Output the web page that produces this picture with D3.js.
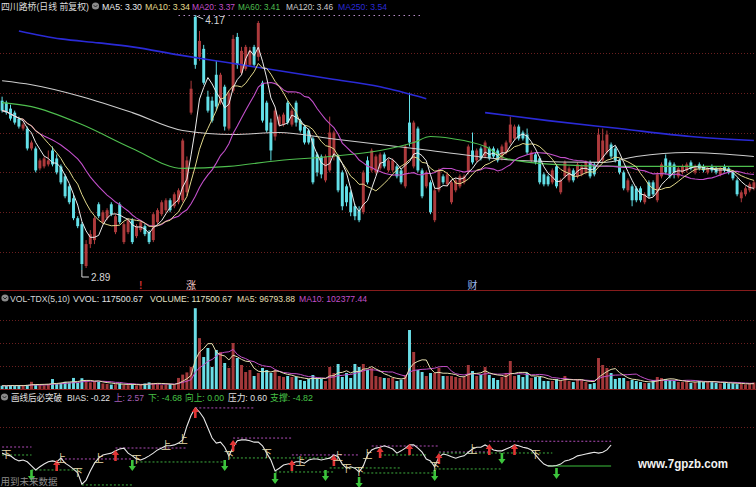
<!DOCTYPE html>
<html>
<head>
<meta charset="utf-8">
<script src="https://cdn.jsdelivr.net/npm/d3@7/dist/d3.min.js"></script>
<style>
  html, body { margin: 0; padding: 0; background: #000; }
  svg { display: block; }
  text { font-family: "Liberation Sans", "Noto Sans CJK SC", sans-serif; }
</style>
</head>
<body>
<svg id="chart" width="756" height="487"></svg>
<script>
// Daily bars, oldest first: [open, high, low, close]
const candles = [
  [3.74,3.76,3.68,3.69],[3.73,3.74,3.67,3.68],[3.70,3.72,3.64,3.65],[3.68,3.69,3.62,3.63],[3.65,3.66,3.60,3.61],
  [3.60,3.63,3.59,3.62],[3.60,3.61,3.49,3.50],[3.50,3.54,3.49,3.53],[3.50,3.51,3.38,3.39],[3.40,3.45,3.39,3.44],
  [3.41,3.46,3.40,3.45],[3.42,3.49,3.41,3.44],[3.49,3.51,3.41,3.42],[3.45,3.47,3.37,3.38],[3.41,3.42,3.32,3.33],
  [3.36,3.37,3.25,3.26],[3.31,3.32,3.22,3.23],[3.25,3.27,3.14,3.15],[3.15,3.16,3.10,3.11],[3.12,3.13,2.89,2.92],
  [2.91,3.04,2.90,3.02],[3.02,3.09,3.00,3.07],[3.04,3.16,3.02,3.15],[3.22,3.23,3.15,3.16],[3.13,3.19,3.12,3.18],
  [3.15,3.20,3.14,3.19],[3.22,3.23,3.16,3.17],[3.08,3.17,3.07,3.16],[3.22,3.23,3.12,3.13],[3.03,3.13,3.02,3.12],
  [3.08,3.15,3.07,3.14],[3.14,3.15,3.02,3.03],[3.06,3.12,3.05,3.11],[3.09,3.14,3.08,3.13],[3.11,3.12,3.06,3.07],
  [3.08,3.09,3.02,3.03],[3.04,3.18,3.03,3.17],[3.13,3.20,3.12,3.19],[3.17,3.24,3.16,3.23],[3.19,3.25,3.18,3.24],
  [3.24,3.25,3.18,3.19],[3.21,3.28,3.20,3.27],[3.23,3.30,3.22,3.29],[3.24,3.55,3.23,3.54],[3.28,3.46,3.26,3.44],
  [3.68,3.84,3.67,3.80],[4.16,4.17,3.90,3.92],[3.96,4.09,3.94,4.04],[4.00,4.02,3.82,3.83],[3.76,3.79,3.68,3.69],
  [3.74,3.76,3.63,3.64],[3.87,3.94,3.69,3.71],[3.73,3.88,3.72,3.87],[3.81,3.82,3.59,3.61],[3.60,3.79,3.59,3.78],
  [3.79,4.07,3.78,4.05],[4.06,4.08,3.90,3.92],[3.88,4.01,3.87,3.99],[3.90,4.02,3.89,4.01],[3.92,4.01,3.91,3.99],
  [4.01,4.02,3.91,3.92],[3.96,4.14,3.94,4.13],[3.83,3.84,3.63,3.64],[3.73,3.74,3.58,3.59],[3.63,3.65,3.44,3.49],
  [3.56,3.70,3.54,3.69],[3.62,3.67,3.61,3.66],[3.62,3.68,3.61,3.67],[3.73,3.74,3.62,3.63],[3.62,3.70,3.61,3.69],
  [3.73,3.74,3.61,3.63],[3.64,3.65,3.58,3.59],[3.61,3.62,3.52,3.53],[3.59,3.60,3.52,3.53],[3.55,3.56,3.32,3.33],
  [3.47,3.48,3.36,3.38],[3.46,3.47,3.35,3.37],[3.34,3.47,3.33,3.46],[3.39,3.66,3.38,3.58],[3.46,3.59,3.44,3.58],
  [3.46,3.47,3.28,3.29],[3.38,3.39,3.19,3.21],[3.31,3.32,3.21,3.23],[3.28,3.29,3.16,3.18],[3.21,3.22,3.14,3.16],
  [3.19,3.21,3.13,3.14],[3.18,3.39,3.17,3.38],[3.44,3.46,3.32,3.33],[3.39,3.50,3.38,3.49],[3.38,3.47,3.37,3.46],
  [3.40,3.48,3.39,3.47],[3.47,3.48,3.40,3.41],[3.39,3.45,3.38,3.44],[3.39,3.45,3.38,3.44],[3.41,3.42,3.35,3.36],
  [3.39,3.40,3.32,3.33],[3.31,3.52,3.30,3.51],[3.63,3.78,3.51,3.53],[3.41,3.64,3.40,3.63],[3.60,3.61,3.38,3.39],
  [3.39,3.40,3.25,3.26],[3.31,3.39,3.30,3.38],[3.33,3.34,3.17,3.18],[3.14,3.30,3.13,3.29],[3.29,3.40,3.28,3.39],
  [3.36,3.37,3.32,3.33],[3.32,3.38,3.31,3.37],[3.23,3.34,3.22,3.33],[3.29,3.35,3.28,3.34],[3.31,3.37,3.30,3.36],
  [3.33,3.37,3.32,3.36],[3.38,3.52,3.37,3.51],[3.49,3.58,3.42,3.43],[3.44,3.50,3.43,3.49],[3.50,3.51,3.44,3.45],
  [3.46,3.54,3.45,3.53],[3.50,3.51,3.44,3.45],[3.50,3.51,3.45,3.46],[3.49,3.50,3.43,3.44],[3.45,3.52,3.44,3.51],
  [3.48,3.54,3.47,3.53],[3.53,3.66,3.52,3.62],[3.55,3.62,3.54,3.61],[3.61,3.62,3.54,3.55],[3.58,3.59,3.54,3.55],
  [3.57,3.60,3.47,3.48],[3.44,3.49,3.43,3.48],[3.47,3.48,3.42,3.43],[3.45,3.46,3.32,3.33],[3.37,3.38,3.31,3.32],
  [3.36,3.37,3.31,3.32],[3.33,3.40,3.32,3.39],[3.41,3.42,3.30,3.31],[3.28,3.35,3.27,3.34],[3.36,3.44,3.35,3.43],
  [3.34,3.41,3.33,3.40],[3.39,3.40,3.33,3.34],[3.36,3.43,3.35,3.42],[3.37,3.42,3.36,3.41],[3.38,3.44,3.37,3.43],
  [3.43,3.44,3.35,3.36],[3.42,3.43,3.36,3.37],[3.43,3.60,3.42,3.57],[3.44,3.60,3.43,3.54],[3.48,3.59,3.47,3.57],
  [3.52,3.53,3.45,3.46],[3.50,3.51,3.43,3.44],[3.44,3.45,3.37,3.38],[3.38,3.39,3.29,3.30],[3.29,3.35,3.28,3.34],
  [3.31,3.32,3.21,3.24],[3.30,3.31,3.23,3.24],[3.30,3.31,3.23,3.24],[3.23,3.28,3.22,3.27],[3.33,3.34,3.25,3.26],
  [3.33,3.34,3.26,3.27],[3.24,3.38,3.23,3.37],[3.36,3.43,3.35,3.42],[3.45,3.47,3.37,3.38],[3.43,3.44,3.35,3.36],
  [3.42,3.43,3.35,3.38],[3.36,3.41,3.35,3.40],[3.38,3.42,3.37,3.41],[3.39,3.43,3.38,3.42],[3.43,3.44,3.39,3.40],
  [3.38,3.42,3.37,3.41],[3.42,3.43,3.39,3.40],[3.41,3.42,3.38,3.39],[3.38,3.41,3.37,3.40],[3.41,3.42,3.38,3.39],
  [3.40,3.41,3.37,3.38],[3.37,3.41,3.36,3.40],[3.41,3.42,3.38,3.39],[3.40,3.41,3.37,3.38],[3.38,3.39,3.34,3.35],
  [3.34,3.35,3.26,3.27],[3.25,3.29,3.23,3.28],[3.27,3.31,3.26,3.30],[3.29,3.33,3.28,3.32],[3.30,3.34,3.29,3.33]
];

// Traded volume per bar
const volumes = [
  60000,55000,70000,60000,65000,55000,75000,130000,80000,70000,
  65000,90000,180000,95000,110000,130000,120000,200000,110000,195000,
  150000,120000,140000,130000,100000,90000,80000,85000,100000,75000,
  70000,90000,65000,80000,100000,120000,110000,100000,70000,80000,
  90000,72000,200000,260000,300000,400000,1460000,920000,578000,741000,
  398000,705000,669000,470000,380000,831000,560000,434000,307000,343000,
  235000,289000,380000,343000,289000,343000,235000,217000,235000,217000,
  217000,163000,145000,181000,253000,199000,181000,145000,398000,289000,
  452000,217000,289000,199000,452000,398000,452000,343000,380000,235000,
  217000,199000,199000,199000,145000,170000,253000,1066000,669000,343000,
  307000,235000,289000,289000,380000,235000,235000,235000,217000,199000,
  217000,434000,325000,235000,253000,398000,253000,199000,163000,217000,
  289000,506000,235000,253000,217000,289000,199000,217000,217000,145000,
  145000,145000,181000,145000,235000,145000,126000,181000,163000,126000,
  90000,108000,560000,434000,380000,289000,181000,199000,199000,145000,
  163000,145000,126000,108000,108000,163000,217000,199000,181000,163000,
  145000,126000,126000,145000,108000,126000,145000,126000,145000,126000,
  112340,98760,121450,104215,103040,88120,95340,81200,101808.73,117500.67
];

// Long moving averages, [bar index, value]; null marks a break in the line
const ma60Knots = [[0,3.73],[7,3.71],[19,3.62],[31,3.50],[43,3.40],[54,3.41],[66,3.44],[78,3.46],[90,3.49],
  [98,3.53],[102,3.56],[107,3.55],[115,3.51],[120,3.45],[131,3.42],[147,3.41],[179,3.41]];
const ma120Knots = [[0,3.84],[7,3.82],[19,3.76],[31,3.68],[43,3.59],[55,3.57],[66,3.58],[78,3.55],[90,3.52],
  [102,3.49],[123,3.44],[143,3.43],[151,3.46],[163,3.48],[179,3.46]];
const ma250Knots = [[4,4.09],[14,4.05],[23,4.03],[31,4.01],[42,3.97],[54,3.93],[66,3.89],[78,3.85],[90,3.81],
  [101,3.75],[108,null],[115,3.68],[130,3.64],[147,3.60],[164,3.56],[179,3.54]];

const priceGrid = [3.98, 3.78, 3.58, 3.38, 3.18, 2.98];
const volumeGrid = [1250000, 830000, 415000];
const biasGrid = [3.7];

// Breakout indicator (BIAS) per bar
const biasValues = [
  -2.0,-2.4,-2.6,-3.3,-3.7,-3.5,-3.9,-4.8,-5.7,-5.0,
  -4.4,-3.9,-3.7,-3.9,-3.1,-4.2,-4.8,-5.5,-6.3,-8.8,
  -7.9,-5.9,-4.2,-3.1,-2.4,-2.2,-2.0,-1.5,-1.1,-0.9,
  -2.0,-2.6,-3.3,-3.5,-3.1,-2.6,-2.0,-1.3,-0.9,-0.4,
  -0.4,-0.2,0.2,0.9,3.9,6.3,7.9,7.0,5.7,3.5,
  1.3,0.2,0.4,-0.7,-2.6,-0.7,0.7,0.9,0.9,0.7,
  0.4,0.4,-0.4,-2.0,-3.5,-5.9,-5.3,-4.6,-4.4,-4.2,
  -3.9,-3.9,-4.2,-3.5,-3.3,-3.3,-3.5,-3.3,-3.1,-2.4,
  -2.8,-4.4,-5.3,-5.0,-5.3,-6.1,-4.8,-2.4,-1.3,-0.9,
  -0.7,-0.4,-0.7,-1.1,-2.0,-1.5,-0.9,-0.2,-0.2,-0.9,
  -1.8,-3.3,-3.7,-5.0,-2.8,-2.2,-2.4,-2.8,-3.1,-2.8,
  -2.6,-1.8,-1.1,-0.7,-0.7,-0.2,-0.7,-1.3,-1.5,-1.5,
  -1.1,-0.7,-0.2,-0.4,-0.7,-0.9,-1.3,-2.4,-3.5,-4.4,
  -4.8,-4.82,-4.7,-4.4,-3.7,-3.5,-3.1,-2.6,-2.4,-2.2,
  -2.0,-1.8,-2.0,-1.8,-1.3,-0.22
];
// Pressure / support levels: [from bar, to bar, level]
const resistLevels = [[0,7,-0.66],[14,31,-3.28],[27,44,-0.88],[46,60,7.9],[55,69,1.3],[69,85,-2.4],
  [88,104,-0.44],[104,116,-1.75],[116,145,0.60]];
const supportLevels = [[0,7,-2.41],[7,19,-5.69],[19,31,-8.97],[32,53,-3.94],[54,79,-3.06],[65,79,-6.13],
  [78,95,-5.25],[86,103,-6.35],[90,101,-2.41],[104,131,-1.97],[103,119,-5.47]];
const supportLine = [130, 145, -4.82];
// Signals: [bar index, level]
const upArrows = [[13,-3.51],[27,-1.32],[46,8.1],[55,0.88],[69,-3.51],[79,-2.41],[90,-0.66],[97,0.0],
  [104,-1.97],[116,0.0],[122,0.0]];
const downArrows = [[7,-5.70],[31,-3.51],[53,-3.51],[65,-6.35],[77,-5.70],[85,-7.23],[103,-5.70],
  [119,-1.97],[132,-5.26]];
const biasTags = [[1,'下'],[14,'上'],[18,'下'],[23,'上'],[32,'下'],[39,'上'],[43,'上'],[54,'下'],[63,'下'],
  [71,'上'],[80,'上'],[82,'下'],[85,'下'],[87,'上'],[103,'下'],[112,'上'],[127,'下']];
const biasStats = [['上', 2.57], ['下', -4.68], ['向上', 0.00]];

// Event flags under the price panel
const eventMarks = [[33,'!'],[45,'涨'],[112,'财']];

const W = 756, H = 487;
const N = candles.length;
const svg = d3.select('#chart');
svg.append('rect').attr('width', W).attr('height', H).attr('fill', '#000');

const x = d3.scaleBand().domain(d3.range(N)).range([0, W]).paddingInner(0.3).paddingOuter(0.15);
const cx = i => x(i) + x.bandwidth() / 2;
const yP = d3.scaleLinear().domain([2.89, 4.17]).range([270, 15]);
const yV = d3.scaleLinear().domain([0, 1500000]).range([389, 306]);
const yB = d3.scaleLinear().domain([-4.82, -0.22]).range([466, 445]);

const UP = '#ad3a3c', DOWN = '#63e0e8';
const VUP = '#a3383a', VDOWN = '#6adde6';
const isUp = d => d[3] >= d[0];

const defs = svg.append('defs');
const clip = (id, y, h) => defs.append('clipPath').attr('id', id)
  .append('rect').attr('x', 0).attr('y', y).attr('width', W).attr('height', h);
clip('clipP', 12, 278);
clip('clipV', 303, 86);
clip('clipB', 403, 84);

// dotted grid
const gridColor = '#6a1f1f';
const hDots = (sel, ys) => sel.selectAll(null).data(ys).join('line')
  .attr('x1', 0).attr('x2', W)
  .attr('y1', d => Math.round(d) + 0.5).attr('y2', d => Math.round(d) + 0.5)
  .attr('stroke', gridColor).attr('stroke-width', 1).attr('stroke-dasharray', '1,2');
const gGrid = svg.append('g');
hDots(gGrid, priceGrid.map(yP));
hDots(gGrid, volumeGrid.map(yV));
hDots(gGrid, biasGrid.map(yB));

// faint dotted ceiling near the top price
gGrid.append('line')
  .attr('x1', cx(42)).attr('x2', cx(100))
  .attr('y1', Math.round(yP(4.17)) + 0.5).attr('y2', Math.round(yP(4.17)) + 0.5)
  .attr('stroke', '#b48ac4').attr('stroke-width', 1).attr('stroke-dasharray', '1.5,3.5');

// panel separators
[290.5, 389.5].forEach(y => svg.append('line').attr('x1', 0).attr('x2', W).attr('y1', y).attr('y2', y)
  .attr('stroke', '#861c1c').attr('stroke-width', 1));

// ---------- price panel ----------
const gP = svg.append('g').attr('clip-path', 'url(#clipP)');
gP.selectAll('line.wick').data(candles).join('line').attr('class', 'wick')
  .attr('x1', (d, i) => cx(i)).attr('x2', (d, i) => cx(i))
  .attr('y1', d => yP(Math.max(d[1], d[0], d[3]))).attr('y2', d => yP(Math.min(d[2], d[0], d[3])))
  .attr('stroke', d => isUp(d) ? UP : DOWN).attr('stroke-width', 1);
gP.selectAll('rect.body').data(candles).join('rect').attr('class', 'body')
  .attr('x', (d, i) => x(i)).attr('width', x.bandwidth())
  .attr('y', d => yP(Math.max(d[0], d[3])))
  .attr('height', d => Math.max(1, Math.abs(yP(d[0]) - yP(d[3]))))
  .attr('fill', d => isUp(d) ? UP : DOWN);

const closes = candles.map(d => d[3]);
const rolling = (arr, n) => arr.map((_, i) => d3.mean(arr.slice(Math.max(0, i - n + 1), i + 1)));
const ma5 = rolling(closes, 5), ma10 = rolling(closes, 10), ma20 = rolling(closes, 20);

const seriesLine = (scale) => d3.line().x((d, i) => cx(i)).y(d => scale(d));
const knotLine = d3.line().defined(d => d[1] != null).x(d => cx(d[0])).y(d => yP(d[1])).curve(d3.curveMonotoneX);

const maStyles = { ma250: '#2a2ad6', ma120: '#cdcdcd', ma60: '#4fbf4f', ma20: '#c24fca', ma10: '#e2d98c', ma5: '#ececec' };
gP.append('path').attr('d', knotLine(ma250Knots)).attr('fill', 'none').attr('stroke', maStyles.ma250).attr('stroke-width', 1.6);
gP.append('path').attr('d', knotLine(ma120Knots)).attr('fill', 'none').attr('stroke', maStyles.ma120).attr('stroke-width', 1.1);
gP.append('path').attr('d', knotLine(ma60Knots)).attr('fill', 'none').attr('stroke', maStyles.ma60).attr('stroke-width', 1.1);
gP.append('path').attr('d', seriesLine(yP)(ma20)).attr('fill', 'none').attr('stroke', maStyles.ma20).attr('stroke-width', 1.1);
gP.append('path').attr('d', seriesLine(yP)(ma10)).attr('fill', 'none').attr('stroke', maStyles.ma10).attr('stroke-width', 1);
gP.append('path').attr('d', seriesLine(yP)(ma5)).attr('fill', 'none').attr('stroke', maStyles.ma5).attr('stroke-width', 1);

// high / low callouts
const hiIdx = d3.maxIndex(candles, d => d[1]);
const loIdx = d3.minIndex(candles, d => d[2]);
const hiY = yP(candles[hiIdx][1]), loY = yP(candles[loIdx][2]);
svg.append('path').attr('d', `M${cx(hiIdx) + 1},${hiY + 1} L${cx(hiIdx) + 8},${hiY + 4}`)
  .attr('stroke', '#d6d6d6').attr('fill', 'none').attr('stroke-width', 1);
svg.append('text').attr('x', cx(hiIdx) + 10).attr('y', hiY + 8.5).attr('font-size', 10)
  .attr('fill', '#d6d6d6').text(candles[hiIdx][1].toFixed(2));
svg.append('path').attr('d', `M${cx(loIdx)},${loY} V${loY + 7} H${cx(loIdx) + 7}`)
  .attr('stroke', '#d6d6d6').attr('fill', 'none').attr('stroke-width', 1);
svg.append('text').attr('x', cx(loIdx) + 9).attr('y', loY + 10.5).attr('font-size', 10)
  .attr('fill', '#d6d6d6').text(candles[loIdx][2].toFixed(2));

// event flags
const eventColor = { '!': '#cc3232', '涨': '#f2c6c6', '财': '#9ebaf0' };
svg.selectAll('text.evt').data(eventMarks).join('text').attr('class', 'evt')
  .attr('x', d => cx(d[0])).attr('y', 289).attr('text-anchor', 'middle')
  .attr('font-size', 10).attr('font-weight', d => d[1] === '!' ? 'bold' : 'normal')
  .attr('fill', d => eventColor[d[1]]).text(d => d[1]);

// ---------- volume panel ----------
const gV = svg.append('g').attr('clip-path', 'url(#clipV)');
gV.selectAll('rect').data(volumes).join('rect')
  .attr('x', (d, i) => x(i)).attr('width', x.bandwidth())
  .attr('y', d => yV(d)).attr('height', d => yV(0) - yV(d))
  .attr('fill', (d, i) => isUp(candles[i]) ? VUP : VDOWN);
const vma5 = rolling(volumes, 5), vma10 = rolling(volumes, 10);
gV.append('path').attr('d', seriesLine(yV)(vma10)).attr('fill', 'none').attr('stroke', '#c24fca').attr('stroke-width', 1);
gV.append('path').attr('d', seriesLine(yV)(vma5)).attr('fill', 'none').attr('stroke', '#e6dfb0').attr('stroke-width', 1);

// ---------- breakout panel ----------
const gB = svg.append('g').attr('clip-path', 'url(#clipB)');
const levelLine = (sel, data, color, dash) => sel.selectAll(null).data(data).join('line')
  .attr('x1', d => cx(d[0])).attr('x2', d => cx(d[1]))
  .attr('y1', d => yB(d[2])).attr('y2', d => yB(d[2]))
  .attr('stroke', color).attr('stroke-width', 1).attr('stroke-dasharray', dash);
levelLine(gB, resistLevels, '#b04cb8', '2,2');
levelLine(gB, supportLevels, '#3fae3f', '2,2');
levelLine(gB, [supportLine], '#3cc03c', null);

gB.append('path').attr('d', seriesLine(yB)(biasValues)).attr('fill', 'none')
  .attr('stroke', '#e8e8e8').attr('stroke-width', 1.1);

gB.selectAll('path.up').data(upArrows).join('path').attr('class', 'up')
  .attr('d', d => {
    const c = cx(d[0]), t = yB(d[1]);
    return `M${c},${t} L${c + 3.6},${t + 5} L${c + 1.3},${t + 5} L${c + 1.3},${t + 11} L${c - 1.3},${t + 11} L${c - 1.3},${t + 5} L${c - 3.6},${t + 5} Z`;
  }).attr('fill', '#e23434');
gB.selectAll('path.down').data(downArrows).join('path').attr('class', 'down')
  .attr('d', d => {
    const c = cx(d[0]), t = yB(d[1]);
    return `M${c - 1.3},${t} L${c + 1.3},${t} L${c + 1.3},${t + 6} L${c + 3.6},${t + 6} L${c},${t + 11} L${c - 3.6},${t + 6} L${c - 1.3},${t + 6} Z`;
  }).attr('fill', '#3cc43c');
gB.selectAll('text.tag').data(biasTags).join('text').attr('class', 'tag')
  .attr('x', d => cx(d[0])).attr('y', d => yB(biasValues[d[0]]) + 3.5)
  .attr('text-anchor', 'middle').attr('font-size', 10).attr('fill', '#e6d8a8').text(d => d[1]);

// ---------- headers ----------
const fmt2 = v => v.toFixed(2);
const headerText = (y, parts) => parts.forEach(p => svg.append('text')
  .attr('x', p[0]).attr('y', y).attr('font-size', 9.5).attr('fill', p[2])
  .attr('textLength', p[3]).attr('lengthAdjust', 'spacingAndGlyphs').text(p[1]));
const icon = (x0, y0) => {
  svg.append('circle').attr('cx', x0).attr('cy', y0).attr('r', 3.6).attr('fill', '#8a8a8a');
  svg.append('path').attr('d', `M${x0 - 1.8},${y0 - 0.8} L${x0},${y0 + 1} L${x0 + 1.8},${y0 - 0.8}`)
    .attr('stroke', '#222').attr('fill', 'none').attr('stroke-width', 1);
};
const lastKnot = k => k[k.length - 1][1];

headerText(10, [[1, '四川路桥(日线 前复权)', '#dcdcdc', 88]]);
icon(95.5, 6);
headerText(10, [
  [102, `MA5: ${fmt2(ma5[N - 1])}`, maStyles.ma5, 40],
  [145, `MA10: ${fmt2(ma10[N - 1])}`, maStyles.ma10, 45],
  [192, `MA20: ${fmt2(ma20[N - 1])}`, maStyles.ma20, 43],
  [238, `MA60: ${fmt2(lastKnot(ma60Knots))}`, maStyles.ma60, 42],
  [286, `MA120: ${fmt2(lastKnot(ma120Knots))}`, maStyles.ma120, 47],
  [338, `MA250: ${fmt2(lastKnot(ma250Knots))}`, maStyles.ma250, 49]
]);

const lastVol = volumes[N - 1];
icon(5, 298);
headerText(301.5, [
  [10, 'VOL-TDX(5,10)', '#d4d4d4', 60],
  [73, `VVOL: ${fmt2(lastVol)}`, '#e0e0e0', 70],
  [150, `VOLUME: ${fmt2(lastVol)}`, '#e6e2c4', 82],
  [237, `MA5: ${fmt2(vma5[N - 1])}`, '#e6dfb0', 58],
  [299, `MA10: ${fmt2(vma10[N - 1])}`, '#c24fca', 68]
]);

icon(4.5, 397);
headerText(400.5, [
  [11, '画线后必突破', '#e0e0e0', 51],
  [67, `BIAS: ${fmt2(biasValues[biasValues.length - 1])}`, '#e0e0e0', 43],
  [114, `${biasStats[0][0]}: ${fmt2(biasStats[0][1])}`, '#a55fb5', 30],
  [148, `${biasStats[1][0]}: ${fmt2(biasStats[1][1])}`, '#46c046', 34],
  [185, `${biasStats[2][0]}: ${fmt2(biasStats[2][1])}`, '#46c046', 39],
  [228, `压力: ${fmt2(resistLevels[resistLevels.length - 1][2])}`, '#e0e0e0', 39],
  [270, `支撑: ${fmt2(supportLine[2])}`, '#46c046', 43]
]);

// footnote and site mark
svg.append('text').attr('x', 0.5).attr('y', 485).attr('font-size', 9.5).attr('fill', '#8c8c8c')
  .text('用到未来数据');
svg.append('text').attr('x', 638).attr('y', 467.5).attr('font-size', 13).attr('font-weight', 'bold')
  .attr('fill', '#f2f2f2').attr('textLength', 90).attr('lengthAdjust', 'spacingAndGlyphs').text('www.7gpzb.com');
</script>
</body>
</html>
